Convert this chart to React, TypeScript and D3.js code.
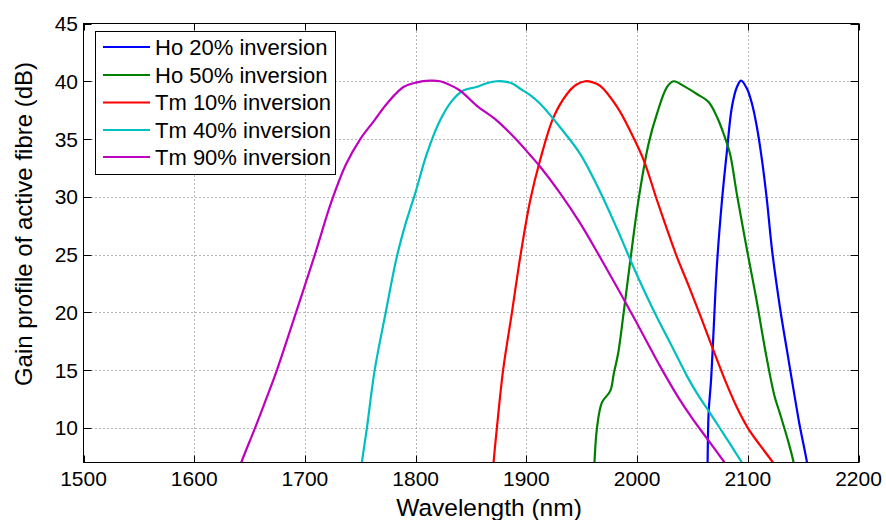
import React from "react";
import * as d3 from "d3";

const xTicks = [1500, 1600, 1700, 1800, 1900, 2000, 2100, 2200];
const yTicks = [10, 15, 20, 25, 30, 35, 40, 45];

const seriesNames = [
  "Ho 20% inversion",
  "Ho 50% inversion",
  "Tm 10% inversion",
  "Tm 40% inversion",
  "Tm 90% inversion",
];
const seriesColors = ["#0000ff", "#008000", "#ff0000", "#00bfbf", "#bf00bf"];

const ho20: [number, number][] = [
  [2063.5, 6], [2063.7, 7], [2064.6, 11.25], [2066.8, 14.1], [2069, 18.2], [2072, 23.9],
  [2076.7, 29.7], [2081.2, 34], [2085.7, 37.8], [2090.2, 39.5], [2093.9, 40.05],
  [2099.3, 39.35], [2103.8, 38.05], [2108.3, 36.0], [2112.8, 33.2], [2117.3, 29.7],
  [2121.9, 25.4], [2129.4, 20.2], [2135.4, 16.7], [2142.9, 12.4],
  [2146.5, 10.4], [2153.5, 7], [2155, 6],
];
const ho50: [number, number][] = [
  [1961, 6], [1961.5, 7], [1963.8, 10], [1968.3, 12.2], [1975.8, 13.2], [1979, 14.7],
  [1983, 16.5], [1987.8, 19.9], [1993.9, 24.5], [2001.4, 29.8], [2010.4, 34.6],
  [2018, 37.2], [2027, 39.5], [2033, 40.0], [2042, 39.6], [2054, 38.9], [2064.6, 38.2],
  [2072.2, 36.9], [2078, 35.5], [2084, 33.7], [2090, 30.3], [2099.3, 25.4], [2108, 21],
  [2115.8, 16.7], [2124, 12.8], [2129, 11.25], [2136.9, 8.7], [2141.4, 7], [2143, 6],
];
const tm10: [number, number][] = [
  [1869.8, 6], [1870.4, 7], [1873.4, 10], [1879, 15], [1887, 20], [1894.5, 24.8],
  [1903.5, 29.7], [1912.5, 33.2], [1924.6, 36.9], [1936.7, 38.9], [1945, 39.7],
  [1953.2, 40.0], [1960, 39.9], [1966.7, 39.6], [1981.8, 37.8], [1993.8, 35.7],
  [2005.9, 33.2], [2018, 29.7], [2027, 27.2], [2036, 24.8], [2047, 22.2], [2058, 19.5],
  [2069, 16.7], [2080, 14.0], [2090, 11.8], [2100, 10.0], [2111, 8.5], [2122, 7.1],
  [2124, 6.8],
];
const tm40: [number, number][] = [
  [1750.5, 6], [1751.5, 7], [1756, 10], [1763, 15], [1773, 20], [1783, 24.8],
  [1791, 27.7], [1799.6, 30.3], [1810, 33.7], [1822, 36.6], [1832.8, 38.3], [1843, 39.2],
  [1855, 39.5], [1865, 39.85], [1873.4, 40.0], [1882, 39.95], [1888.5, 39.75],
  [1894.5, 39.35], [1903.5, 38.8], [1912.5, 38.05], [1930.6, 36.0], [1948.7, 33.7],
  [1966.8, 30.4], [1984.8, 26.6], [1996.8, 23.9], [2014.7, 20.2], [2032.8, 16.8],
  [2045, 14.5], [2054, 13.0], [2063, 11.7], [2078, 9.5], [2094.7, 7], [2096, 6.8],
];
const tm90: [number, number][] = [
  [1639, 6], [1642.5, 7], [1655, 10], [1665, 12.5], [1674.7, 15], [1692, 20], [1709, 25],
  [1724, 29.6], [1737, 32.8], [1750, 35], [1762.6, 36.6], [1774, 38.06], [1789, 39.5],
  [1801, 39.9], [1813, 40.05], [1822, 40.0], [1828, 39.8], [1840, 39.2], [1855, 37.9],
  [1873.4, 36.6], [1891.5, 34.9], [1903.5, 33.6], [1912.5, 32.6], [1930.6, 30.3],
  [1948.7, 27.7], [1967, 24.7], [1996.8, 19.6], [2021, 15.3], [2037.5, 12.6],
  [2050, 10.8], [2063, 9.1], [2079, 7], [2080.5, 6.8],
];
const seriesData = [ho20, ho50, tm10, tm40, tm90];

const W = 886;
const H = 520;
const L = 83.5;
const R = 858.5;
const T = 23.5;
const B = 462.5;

export default function App() {
  const x = d3.scaleLinear().domain([1500, 2200]).range([L, R]);
  const y = d3.scaleLinear().domain([7, 45]).range([B, T]);
  const line = d3
    .line<[number, number]>()
    .x((d) => x(d[0]))
    .y((d) => y(d[1]))
    .curve(d3.curveCatmullRom.alpha(0.5));
  const font = "'Liberation Sans', Arial, Helvetica, sans-serif";
  const gridColor = "#6e6e6e";
  const legX = 95.5;
  const legY = 31.5;
  const legW = 240;
  const legH = 143;
  const rowY = [47, 75, 102.5, 130, 157];

  return (
    <svg
      width={W}
      height={H}
      style={{ position: "absolute", left: 0, top: 0, background: "#fff" }}
      fontFamily={font}
    >
      <defs>
        <clipPath id="plotclip">
          <rect x={L} y={T} width={R - L} height={B - T} />
        </clipPath>
      </defs>
      <rect x={0} y={0} width={W} height={H} fill="#fff" />
      {/* grid */}
      {xTicks.slice(1, -1).map((t) => (
        <line
          key={"gx" + t}
          x1={Math.round(x(t)) + 0.5}
          x2={Math.round(x(t)) + 0.5}
          y1={T}
          y2={B}
          stroke={gridColor}
          strokeWidth={1}
          strokeDasharray="1,3"
        />
      ))}
      {yTicks.slice(0, -1).map((t) => (
        <line
          key={"gy" + t}
          x1={L}
          x2={R}
          y1={Math.round(y(t)) + 0.5}
          y2={Math.round(y(t)) + 0.5}
          stroke={gridColor}
          strokeWidth={1}
          strokeDasharray="1,3"
        />
      ))}
      {/* series */}
      <g clipPath="url(#plotclip)">
        {seriesData.map((s, i) => (
          <path
            key={seriesNames[i]}
            d={line(s) || ""}
            fill="none"
            stroke={seriesColors[i]}
            strokeWidth={2.2}
            strokeLinejoin="round"
          />
        ))}
      </g>
      {/* ticks */}
      {xTicks.map((t) => (
        <g key={"tx" + t}>
          <line x1={Math.round(x(t)) + 0.5} x2={Math.round(x(t)) + 0.5} y1={B} y2={B - 7} stroke="#000" />
          <line x1={Math.round(x(t)) + 0.5} x2={Math.round(x(t)) + 0.5} y1={T} y2={T + 7} stroke="#000" />
          <text x={x(t)} y={486} fontSize={21} textAnchor="middle" fill="#000">
            {t}
          </text>
        </g>
      ))}
      {yTicks.map((t) => (
        <g key={"ty" + t}>
          <line x1={L} x2={L + 8} y1={Math.round(y(t)) + 0.5} y2={Math.round(y(t)) + 0.5} stroke="#000" />
          <line x1={R} x2={R - 8} y1={Math.round(y(t)) + 0.5} y2={Math.round(y(t)) + 0.5} stroke="#000" />
          <text x={78} y={y(t) + 7.5} fontSize={21} textAnchor="end" fill="#000">
            {t}
          </text>
        </g>
      ))}
      {/* frame */}
      <rect x={L} y={T} width={R - L} height={B - T} fill="none" stroke="#000" strokeWidth={1} />
      {/* legend */}
      <rect x={legX} y={legY} width={legW} height={legH} fill="#fff" stroke="#000" strokeWidth={1} />
      {seriesNames.map((n, i) => (
        <g key={"lg" + n}>
          <line x1={103} x2={150} y1={rowY[i]} y2={rowY[i]} stroke={seriesColors[i]} strokeWidth={2.2} />
          <text x={155} y={rowY[i] + 7.8} fontSize={22} fill="#000">
            {n}
          </text>
        </g>
      ))}
      {/* axis labels */}
      <text x={489} y={516} fontSize={24.5} textAnchor="middle" fill="#000">
        Wavelength (nm)
      </text>
      <text
        transform={`translate(32,224) rotate(-90)`}
        fontSize={24}
        textAnchor="middle"
        fill="#000"
      >
        Gain profile of active fibre (dB)
      </text>
    </svg>
  );
}
